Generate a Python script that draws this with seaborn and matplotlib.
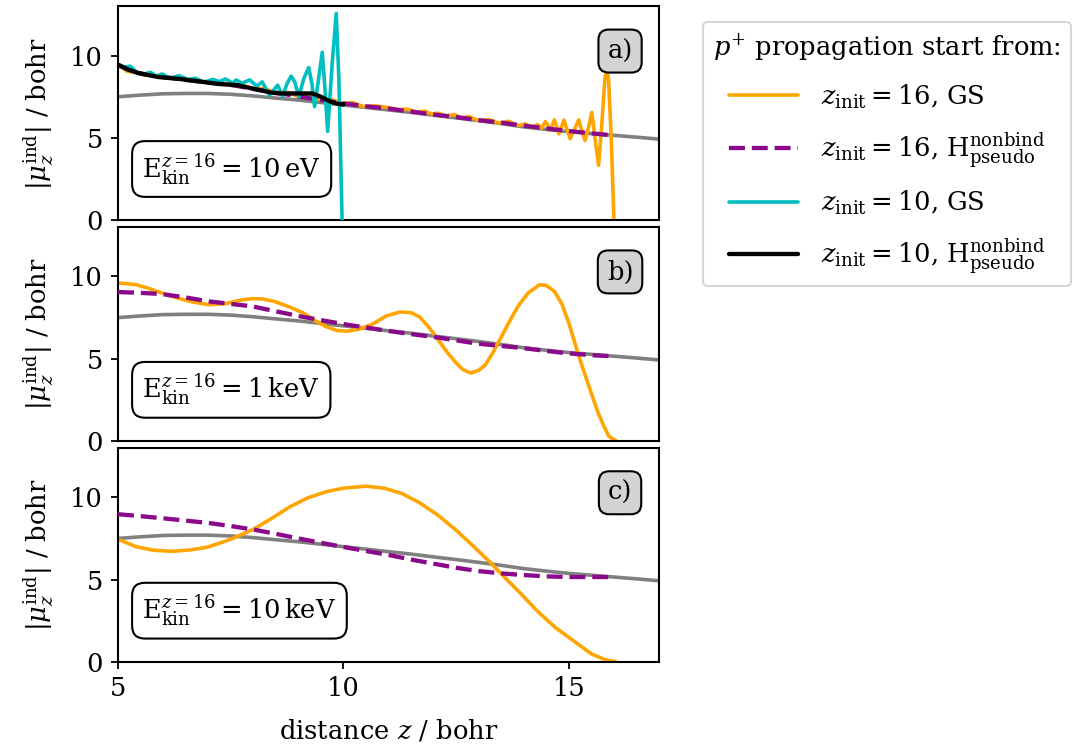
import matplotlib
matplotlib.use("Agg")
import matplotlib.pyplot as plt
import seaborn as sns

# ---------------- data ----------------
# reference (gray) curve, same in every panel
z_ref = [5.0, 5.5, 6.0, 6.5, 7.0, 7.5, 8.0, 8.5, 9.0, 9.5, 10.0, 10.5, 11.0, 11.5,
         12.0, 12.5, 13.0, 13.5, 14.0, 14.5, 15.0, 15.5, 16.0, 16.5, 17.0]
mu_ref = [7.50, 7.60, 7.68, 7.70, 7.70, 7.65, 7.55, 7.42, 7.30, 7.15, 7.00, 6.85, 6.70, 6.55,
          6.38, 6.22, 6.05, 5.87, 5.67, 5.52, 5.38, 5.27, 5.16, 5.05, 4.93]

# panel a) 10 eV
z_a_gs16 = [5.0, 5.2, 5.4, 5.6, 5.8, 6.0, 6.25, 6.5, 6.75, 7.0, 7.25, 7.5, 7.75, 8.0, 8.25,
            8.5, 8.75, 9.0, 9.25, 9.5, 9.75, 10.0, 10.2, 10.45, 10.7, 10.98, 11.2, 11.42,
            11.62, 11.81, 11.95, 12.1, 12.28, 12.45, 12.62, 12.79, 13.0, 13.23, 13.45,
            13.67, 13.85, 14.04, 14.2, 14.30, 14.40, 14.48, 14.53, 14.58, 14.63, 14.68,
            14.73, 14.78, 14.83, 14.89, 14.96, 15.03, 15.12, 15.22, 15.29, 15.36, 15.44,
            15.51, 15.58, 15.66, 15.73, 15.80, 15.84, 15.88, 15.94, 16.0]
mu_a_gs16 = [9.45, 9.05, 8.95, 8.80, 8.80, 8.65, 8.65, 8.52, 8.52, 8.37, 8.37, 8.22, 8.22,
             7.98, 8.00, 7.75, 7.78, 7.52, 7.55, 7.30, 7.32, 7.08, 7.15, 6.90, 6.95, 6.85,
             6.72, 6.75, 6.57, 6.63, 6.45, 6.50, 6.33, 6.42, 6.22, 6.30, 6.05, 6.12, 5.90,
             6.02, 5.75, 5.85, 5.62, 5.82, 5.60, 6.00, 5.80, 5.45, 5.75, 6.10, 5.70, 5.25,
             5.60, 6.08, 5.50, 4.95, 5.50, 6.10, 5.40, 4.85, 5.70, 6.55, 5.00, 3.35, 5.80,
             8.60, 9.15, 8.60, 5.00, 0.0]

z_a_ps16 = [5.0, 5.5, 6.0, 6.5, 7.0, 7.5, 8.0, 8.5, 9.0, 9.5, 10.0, 10.5, 11.0, 11.5,
            12.0, 12.5, 13.0, 13.5, 14.0, 14.5, 15.0, 15.5, 16.0]
mu_a_ps16 = [9.40, 8.90, 8.70, 8.52, 8.37, 8.22, 7.98, 7.75, 7.52, 7.30, 7.10, 6.92, 6.78,
             6.60, 6.42, 6.27, 6.08, 5.93, 5.75, 5.58, 5.42, 5.28, 5.15]

z_a_gs10 = [5.0, 5.13, 5.27, 5.45, 5.58, 5.72, 5.85, 5.98, 6.15, 6.35, 6.55, 6.72, 6.90,
            7.10, 7.25, 7.38, 7.55, 7.62, 7.75, 7.92, 8.08, 8.20, 8.36, 8.54, 8.65, 8.75,
            8.84, 8.92, 9.01, 9.12, 9.23, 9.30, 9.36, 9.45, 9.53, 9.59, 9.65, 9.75, 9.84,
            9.90, 9.97, 10.0]
mu_a_gs10 = [9.45, 9.30, 9.35, 8.90, 8.88, 8.98, 8.75, 8.88, 8.62, 8.78, 8.55, 8.62, 8.38,
             8.55, 8.42, 8.58, 8.32, 8.52, 8.32, 8.52, 8.15, 8.40, 7.60, 8.20, 7.55, 8.30,
             8.75, 8.40, 7.50, 8.60, 9.27, 8.30, 6.90, 8.60, 10.20, 8.00, 5.40, 9.50, 12.55,
             8.50, 0.0, -1.0]

z_a_ps10 = [5.0, 5.22, 5.44, 5.88, 6.33, 6.77, 7.21, 7.65, 8.14, 8.40, 8.58, 9.31, 9.50,
            9.69, 9.85, 10.0]
mu_a_ps10 = [9.45, 9.15, 8.95, 8.70, 8.59, 8.44, 8.28, 8.20, 7.90, 7.75, 7.70, 7.70, 7.50,
             7.23, 7.08, 7.03]

# panel b) 1 keV
z_b_gs16 = [5.0, 5.4, 5.7, 5.97, 6.3, 6.65, 7.02, 7.4, 7.7, 7.98, 8.2, 8.47, 8.8, 9.11,
            9.35, 9.6, 9.85, 10.08, 10.35, 10.65, 10.95, 11.25, 11.5, 11.69, 11.9, 12.1,
            12.3, 12.5, 12.65, 12.82, 13.0, 13.15, 13.3, 13.47, 13.67, 13.87, 14.1, 14.35,
            14.5, 14.68, 14.85, 15.0, 15.15, 15.32, 15.5, 15.65, 15.78, 15.89, 16.05]
mu_b_gs16 = [9.60, 9.50, 9.25, 8.99, 8.70, 8.45, 8.28, 8.35, 8.55, 8.65, 8.63, 8.48, 8.15,
             7.78, 7.35, 6.97, 6.72, 6.67, 6.80, 7.11, 7.60, 7.84, 7.80, 7.54, 6.90, 6.16,
             5.40, 4.75, 4.35, 4.14, 4.30, 4.65, 5.30, 6.16, 7.20, 8.18, 9.00, 9.49, 9.45,
             9.09, 8.30, 7.17, 5.80, 4.34, 2.90, 1.72, 0.90, 0.30, 0.02]

z_b_ps16 = [5.0, 5.5, 5.97, 6.5, 7.02, 7.5, 7.98, 8.5, 9.11, 9.6, 10.08, 10.5, 11.05, 11.5,
            12.02, 12.5, 12.98, 13.5, 13.95, 14.5, 14.92, 15.5, 16.0]
mu_b_ps16 = [9.05, 9.00, 8.93, 8.72, 8.48, 8.33, 8.18, 7.88, 7.54, 7.30, 7.07, 6.90, 6.67,
             6.50, 6.32, 6.12, 5.92, 5.78, 5.66, 5.48, 5.35, 5.22, 5.15]

# panel c) 10 keV
z_c_gs16 = [5.0, 5.4, 5.8, 6.2, 6.6, 7.0, 7.5, 8.0, 8.4, 8.8, 9.2, 9.6, 10.0, 10.5, 10.9,
            11.3, 11.7, 12.1, 12.5, 12.9, 13.2, 13.5, 13.9, 14.3, 14.7, 15.1, 15.5, 15.8,
            16.05]
mu_c_gs16 = [7.45, 7.00, 6.78, 6.72, 6.80, 6.98, 7.45, 8.05, 8.70, 9.40, 9.95, 10.32, 10.55,
             10.67, 10.55, 10.22, 9.65, 8.90, 8.00, 6.98, 6.20, 5.35, 4.25, 3.10, 2.10, 1.30,
             0.50, 0.15, 0.02]

z_c_ps16 = [5.0, 5.5, 6.0, 6.5, 7.0, 7.5, 8.0, 8.5, 9.0, 9.5, 10.0, 10.5, 11.0, 11.5, 12.0,
            12.5, 13.0, 13.5, 14.0, 14.5, 15.0, 15.5, 16.0]
mu_c_ps16 = [8.97, 8.85, 8.72, 8.58, 8.44, 8.25, 8.04, 7.78, 7.50, 7.24, 6.98, 6.74, 6.50,
             6.22, 5.97, 5.72, 5.52, 5.38, 5.28, 5.20, 5.16, 5.16, 5.16]

panel_tags = ["a)", "b)", "c)"]
energy_labels = [r"$\mathrm{E}_{\mathrm{kin}}^{z=16} = 10\,\mathrm{eV}$",
                 r"$\mathrm{E}_{\mathrm{kin}}^{z=16} = 1\,\mathrm{keV}$",
                 r"$\mathrm{E}_{\mathrm{kin}}^{z=16} = 10\,\mathrm{keV}$"]
legend_labels = [r"$z_{\mathrm{init}} = 16$, GS",
                 r"$z_{\mathrm{init}} = 16$, $\mathrm{H}^{\mathrm{nonbind}}_{\mathrm{pseudo}}$",
                 r"$z_{\mathrm{init}} = 10$, GS",
                 r"$z_{\mathrm{init}} = 10$, $\mathrm{H}^{\mathrm{nonbind}}_{\mathrm{pseudo}}$"]
legend_title = r"$p^{+}$ propagation start from:"
x_ticks = [5, 10, 15]
y_ticks = [0, 5, 10]

# ---------------- style ----------------
sns.set_style("ticks")
plt.rcParams["font.family"] = ["DejaVu Serif"]
plt.rcParams["mathtext.fontset"] = "dejavuserif"
plt.rcParams["font.size"] = 18.5
plt.rcParams["text.color"] = "black"
plt.rcParams["axes.labelcolor"] = "black"
plt.rcParams["xtick.color"] = "black"
plt.rcParams["ytick.color"] = "black"
plt.rcParams["axes.linewidth"] = 1.5
plt.rcParams["xtick.major.width"] = 1.3
plt.rcParams["ytick.major.width"] = 1.3
plt.rcParams["xtick.major.size"] = 5
plt.rcParams["ytick.major.size"] = 5
plt.rcParams["xtick.major.pad"] = 5
plt.rcParams["ytick.major.pad"] = 6
plt.rcParams["axes.edgecolor"] = "black"

C_OR = "#FFA500"
C_PU = "#8B0A8B"
C_CY = "#00BFBF"
C_BK = "black"
C_GR = "#808080"

fig, axes = plt.subplots(3, 1, figsize=(10.74, 7.55), dpi=100, sharex=True)
fig.subplots_adjust(left=0.1099, right=0.6136, top=0.992, bottom=0.123, hspace=0.03)

panels = [
    dict(gs16=(z_a_gs16, mu_a_gs16), ps16=(z_a_ps16, mu_a_ps16),
         gs10=(z_a_gs10, mu_a_gs10), ps10=(z_a_ps10, mu_a_ps10)),
    dict(gs16=(z_b_gs16, mu_b_gs16), ps16=(z_b_ps16, mu_b_ps16)),
    dict(gs16=(z_c_gs16, mu_c_gs16), ps16=(z_c_ps16, mu_c_ps16)),
]

for i, (ax, p) in enumerate(zip(axes, panels)):
    sns.lineplot(x=z_ref, y=mu_ref, ax=ax, color=C_GR, lw=2.6, sort=False,
                 estimator=None, zorder=1)
    sns.lineplot(x=p["gs16"][0], y=p["gs16"][1], ax=ax, color=C_OR, lw=2.6, sort=False,
                 estimator=None, zorder=2, label=legend_labels[0])
    sns.lineplot(x=p["ps16"][0], y=p["ps16"][1], ax=ax, color=C_PU, lw=3.1,
                 sort=False, estimator=None, zorder=3, linestyle="--",
                 label=legend_labels[1])
    if "gs10" in p:
        sns.lineplot(x=p["gs10"][0], y=p["gs10"][1], ax=ax, color=C_CY, lw=2.6,
                     sort=False, estimator=None, zorder=4, label=legend_labels[2])
        sns.lineplot(x=p["ps10"][0], y=p["ps10"][1], ax=ax, color=C_BK, lw=3.1,
                     sort=False, estimator=None, zorder=5, label=legend_labels[3])

    ax.set_xlim(5, 17)
    ax.set_ylim(0, 13)
    ax.set_xticks(x_ticks)
    ax.set_yticks(y_ticks)
    ax.set_ylabel(r"$|\mu_z^{\mathrm{ind}}|$ / bohr", labelpad=10)
    for s in ax.spines.values():
        s.set_visible(True)
        s.set_color("black")
    if i < 2:
        ax.tick_params(axis="x", bottom=False, labelbottom=False)
    if ax.get_legend() is not None:
        ax.get_legend().remove()

    ax.text(0.045, 0.24, energy_labels[i], transform=ax.transAxes, ha="left",
            va="center", zorder=10,
            bbox=dict(boxstyle="round,pad=0.4,rounding_size=0.5", fc="white",
                      ec="black", lw=1.5))
    ax.text(0.928, 0.79, panel_tags[i], transform=ax.transAxes, ha="center",
            va="center", zorder=10,
            bbox=dict(boxstyle="round,pad=0.35,rounding_size=0.4", fc="#d3d3d3",
                      ec="black", lw=1.5))

axes[-1].set_xlabel(r"distance $z$ / bohr", labelpad=12)
fig.align_ylabels(axes)

handles, labels = axes[0].get_legend_handles_labels()
leg = axes[0].legend(handles, labels, title=legend_title, loc="upper left",
                     bbox_to_anchor=(1.081, 0.926), borderaxespad=0.0,
                     handlelength=2.7, frameon=True, fancybox=True,
                     fontsize=18.5, title_fontsize=18.5,
                     labelspacing=0.75, handletextpad=0.9)
leg.get_frame().set_edgecolor("#cccccc")
leg.get_frame().set_linewidth(1.5)

fig.savefig("out.png", dpi=100)
